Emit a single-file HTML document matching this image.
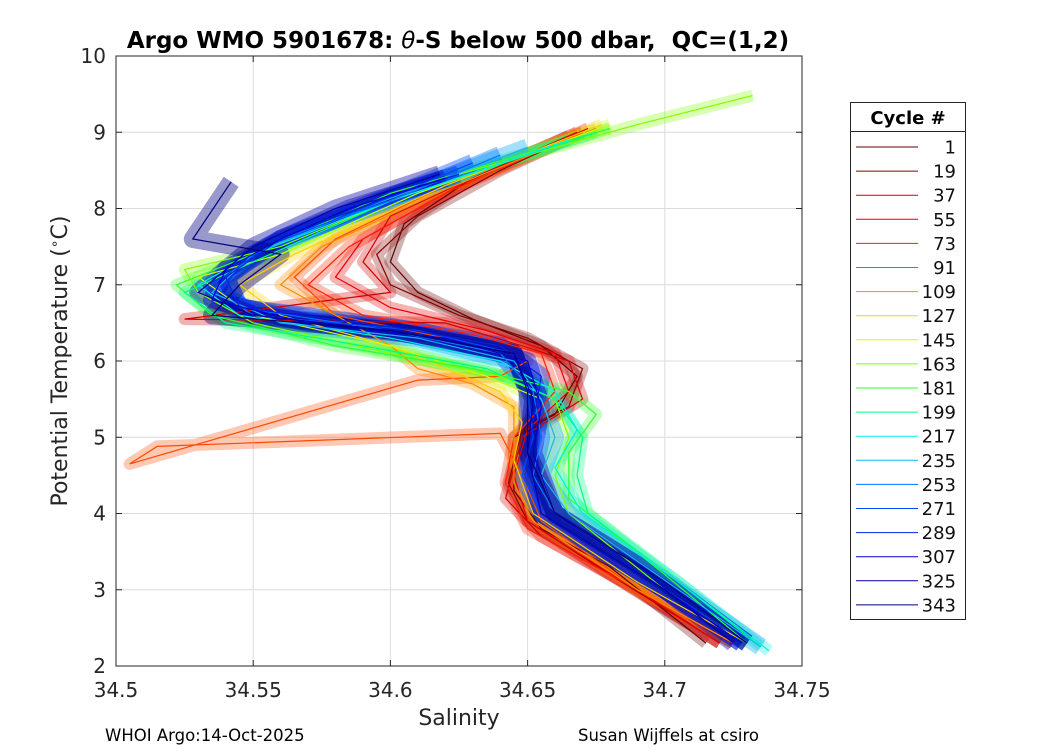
<!DOCTYPE html>
<html><head><meta charset="utf-8"><style>
body{margin:0;background:#fff;font-family:"Liberation Sans","DejaVu Sans",sans-serif;}
svg text{font-family:"DejaVu Sans","Liberation Sans",sans-serif;}
</style></head><body>
<svg id="chart" width="1050" height="750" viewBox="0 0 1050 750" xmlns="http://www.w3.org/2000/svg">
<rect width="1050" height="750" fill="#fff"/>
<text x="458" y="48" text-anchor="middle" font-size="23" font-weight="bold">Argo WMO 5901678: <tspan font-style="italic" font-weight="normal">θ</tspan>-S below 500 dbar,&#160; QC=(1,2)</text>
<rect x="116" y="56" width="686" height="610" fill="#fff"/>
<g id="grid"></g>
<g id="series" clip-path="url(#clip)"></g>
<defs><clipPath id="clip"><rect x="116" y="56" width="686" height="610"/></clipPath></defs>
<rect x="116" y="56" width="686" height="610" fill="none" stroke="#262626" stroke-width="1"/>
<g id="ticks"></g>
<text x="459" y="725" text-anchor="middle" font-size="22" fill="#262626">Salinity</text>
<text transform="translate(67,361) rotate(-90)" text-anchor="middle" font-size="22" fill="#262626">Potential Temperature (<tspan dy="-8" font-size="14">∘</tspan><tspan dy="8">C)</tspan></text>
<text x="105" y="741" font-size="16.5">WHOI Argo:14-Oct-2025</text>
<text x="578" y="741" font-size="16.5">Susan Wijffels at csiro</text>
<g id="legend">
<rect x="850.5" y="102.5" width="115" height="517" fill="#fff" stroke="#262626"/>
<line x1="850.5" y1="131.5" x2="965.5" y2="131.5" stroke="#262626"/>
<text x="908" y="124" text-anchor="middle" font-size="18" font-weight="bold">Cycle #</text>
</g>
</svg>
<script>
const cycles=[1,19,37,55,73,91,109,127,145,163,181,199,217,235,253,271,289,307,325,343];
const colors=["#660000","#880000","#d00000","#e80000","#ff2000","#ff4a00","#ff8800","#ffd000","#c8ff00","#80ff00","#30ff30","#00ff80","#00f0e0","#1ab0ff","#0078ff","#0048ff","#0022e0","#0000d0","#0000a8","#000080"];
const xTicks=[34.5,34.55,34.6,34.65,34.7,34.75];
const yTicks=[2,3,4,5,6,7,8,9,10];
const P1=[[34.665,8.95],[34.63,8.4],[34.605,7.8],[34.6,7.3],[34.61,6.9],[34.63,6.55],[34.655,6.2],[34.668,5.8],[34.66,5.3],[34.645,5.0],[34.645,4.3],[34.655,3.8],[34.68,3.3],[34.715,2.3]];
const P19=[[34.67,9.0],[34.64,8.5],[34.61,7.9],[34.595,7.4],[34.6,7.0],[34.625,6.6],[34.65,6.3],[34.67,5.9],[34.665,5.4],[34.648,5.1],[34.643,4.4],[34.65,3.9],[34.68,3.2],[34.72,2.3]];
const P37=[[34.668,9.0],[34.63,8.4],[34.6,7.9],[34.59,7.3],[34.6,6.9],[34.525,6.55],[34.62,6.5],[34.648,6.2],[34.665,6.0],[34.67,5.5],[34.648,5.0],[34.642,4.2],[34.655,3.7],[34.69,3.0],[34.72,2.3]];
const P55=[[34.672,9.05],[34.625,8.3],[34.59,7.6],[34.58,7.1],[34.6,6.7],[34.635,6.4],[34.66,6.1],[34.665,5.6],[34.65,5.1],[34.645,4.5],[34.65,3.9],[34.685,3.1],[34.72,2.3]];
const P73=[[34.67,9.0],[34.62,8.2],[34.585,7.5],[34.57,7.0],[34.59,6.6],[34.63,6.35],[34.655,6.1],[34.66,5.6],[34.645,5.0],[34.642,4.4],[34.65,3.8],[34.69,3.0],[34.725,2.3]];
const P91=[[34.67,9.0],[34.62,8.3],[34.58,7.6],[34.565,7.1],[34.58,6.6],[34.62,6.3],[34.65,6.0],[34.64,5.8],[34.61,5.75],[34.505,4.65],[34.515,4.88],[34.64,5.05],[34.648,4.5],[34.655,3.9],[34.69,3.0],[34.725,2.3]];
const P109=[[34.675,9.05],[34.62,8.25],[34.575,7.5],[34.56,7.0],[34.58,6.6],[34.6,6.2],[34.61,5.9],[34.63,5.7],[34.645,5.4],[34.645,5.0],[34.645,4.4],[34.652,3.9],[34.69,3.0],[34.725,2.3]];
const P127=[[34.677,9.1],[34.62,8.3],[34.565,7.4],[34.545,7.0],[34.56,6.6],[34.6,6.2],[34.62,5.9],[34.64,5.6],[34.648,5.2],[34.645,4.7],[34.652,4.0],[34.69,3.1],[34.73,2.3]];
const P145=[[34.68,9.1],[34.61,8.2],[34.56,7.4],[34.53,7.1],[34.55,6.6],[34.6,6.2],[34.635,5.8],[34.655,5.5],[34.66,5.0],[34.655,4.5],[34.66,4.0],[34.7,3.0],[34.73,2.3]];
const P163=[[34.732,9.48],[34.69,9.1],[34.62,8.4],[34.56,7.5],[34.525,7.2],[34.53,6.9],[34.55,6.5],[34.6,6.1],[34.64,5.8],[34.66,5.5],[34.665,5.0],[34.66,4.5],[34.665,4.0],[34.7,3.0],[34.73,2.3]];
const P181=[[34.68,9.05],[34.6,8.2],[34.55,7.4],[34.522,7.0],[34.535,6.6],[34.58,6.2],[34.63,5.9],[34.665,5.6],[34.675,5.3],[34.665,4.8],[34.665,4.2],[34.7,3.2],[34.73,2.3]];
const P199=[[34.675,9.0],[34.6,8.1],[34.55,7.3],[34.525,6.9],[34.54,6.5],[34.59,6.2],[34.635,5.9],[34.66,5.5],[34.67,5.0],[34.668,4.5],[34.672,4.0],[34.705,3.1],[34.735,2.25]];
const P217=[[34.665,8.9],[34.6,8.1],[34.55,7.4],[34.53,7.0],[34.545,6.6],[34.6,6.3],[34.64,6.0],[34.66,5.6],[34.668,5.1],[34.66,4.6],[34.67,4.0],[34.705,3.1],[34.738,2.2]];
const P235=[[34.65,8.8],[34.59,8.0],[34.55,7.4],[34.535,6.9],[34.56,6.5],[34.61,6.3],[34.645,6.0],[34.655,5.5],[34.66,5.0],[34.655,4.5],[34.665,4.0],[34.705,3.0],[34.735,2.25]];
const P253=[[34.64,8.7],[34.6,8.1],[34.56,7.6],[34.54,7.1],[34.545,6.7],[34.6,6.4],[34.64,6.1],[34.652,5.6],[34.655,5.0],[34.652,4.5],[34.66,4.0],[34.7,3.1],[34.73,2.3]];
const P271=[[34.63,8.6],[34.59,8.0],[34.555,7.5],[34.535,7.0],[34.55,6.6],[34.61,6.4],[34.645,6.1],[34.65,5.6],[34.652,5.0],[34.648,4.5],[34.655,4.0],[34.7,3.0],[34.728,2.3]];
const P289=[[34.625,8.45],[34.595,8.1],[34.56,7.6],[34.54,7.1],[34.545,6.7],[34.6,6.45],[34.64,6.2],[34.655,5.8],[34.652,5.2],[34.65,4.6],[34.655,4.0],[34.7,3.0],[34.73,2.3]];
const P307=[[34.62,8.4],[34.585,8.0],[34.56,7.6],[34.54,7.2],[34.535,6.8],[34.57,6.5],[34.62,6.3],[34.65,6.0],[34.655,5.4],[34.652,4.8],[34.66,4.0],[34.7,3.0],[34.728,2.3]];
const P325=[[34.618,8.45],[34.58,8.0],[34.55,7.5],[34.53,6.9],[34.55,6.6],[34.6,6.4],[34.645,6.1],[34.652,5.5],[34.65,4.8],[34.655,4.0],[34.7,3.0],[34.725,2.3]];
const P343=[[34.542,8.35],[34.528,7.6],[34.56,7.4],[34.545,7.0],[34.535,6.6],[34.6,6.4],[34.645,6.1],[34.65,5.6],[34.65,4.8],[34.66,4.0],[34.7,3.1],[34.73,2.3]];
const profiles=[P1,P19,P37,P55,P73,P91,P109,P127,P145,P163,P181,P199,P217,P235,P253,P271,P289,P307,P325,P343];

const NS="http://www.w3.org/2000/svg";
const X0=116,X1=802,Y0=666,Y1=56;
const sx=s=>X0+(s-34.5)/0.25*(X1-X0);
const sy=t=>Y0-(t-2)/8*(Y0-Y1);
function mk(tag,attrs,parent){const e=document.createElementNS(NS,tag);for(const k in attrs)e.setAttribute(k,attrs[k]);parent.appendChild(e);return e;}
const grid=document.getElementById('grid'),ticks=document.getElementById('ticks'),series=document.getElementById('series'),legend=document.getElementById('legend');
xTicks.forEach(v=>{const x=sx(v);
 const g=mk('line',{x1:x,x2:x,y1:Y1,y2:Y0,stroke:'#dcdcdc','stroke-width':1},grid);
 
 
 mk('line',{x1:x,x2:x,y1:Y0,y2:Y0-6,stroke:'#262626'},ticks);
 mk('line',{x1:x,x2:x,y1:Y1,y2:Y1+6,stroke:'#262626'},ticks);
 const t=mk('text',{x:x,y:697,'text-anchor':'middle','font-size':20,fill:'#262626'},ticks);t.textContent=String(v);
 
 
});
yTicks.forEach(v=>{const y=sy(v);
 const g=mk('line',{x1:X0,x2:X1,y1:y,y2:y,stroke:'#dcdcdc','stroke-width':1},grid);
 
 
 mk('line',{x1:X0,x2:X0+6,y1:y,y2:y,stroke:'#262626'},ticks);
 mk('line',{x1:X1,x2:X1-6,y1:y,y2:y,stroke:'#262626'},ticks);
 const t=mk('text',{x:106,y:y+7,'text-anchor':'end','font-size':20,fill:'#262626'},ticks);t.textContent=v;
 
 
});
profiles.forEach((p,i)=>{
 const d=p.map((pt,j)=>(j?'L':'M')+sx(pt[0]).toFixed(1)+','+sy(pt[1]).toFixed(1)).join('');
 const u=mk('path',{d:d,fill:'none',stroke:colors[i],'stroke-width':i>=13?18:12,'stroke-opacity':i>=13?0.4:0.3,'stroke-linejoin':'round'},series);
 
 
});
profiles.forEach((p,i)=>{
 const d=p.map((pt,j)=>(j?'L':'M')+sx(pt[0]).toFixed(1)+','+sy(pt[1]).toFixed(1)).join('');
 const l=mk('path',{d:d,fill:'none',stroke:colors[i],'stroke-width':1.2},series);
 
 
});
cycles.forEach((c,i)=>{const y=147+i*24.1;
 const l=mk('line',{x1:856,x2:918,y1:y,y2:y,stroke:colors[i]},legend);
 
 
 const t=mk('text',{x:956,y:y+6.5,'text-anchor':'end','font-size':18,fill:'#111'},legend);t.textContent=c;
 
 
});
</script>
</body></html>
